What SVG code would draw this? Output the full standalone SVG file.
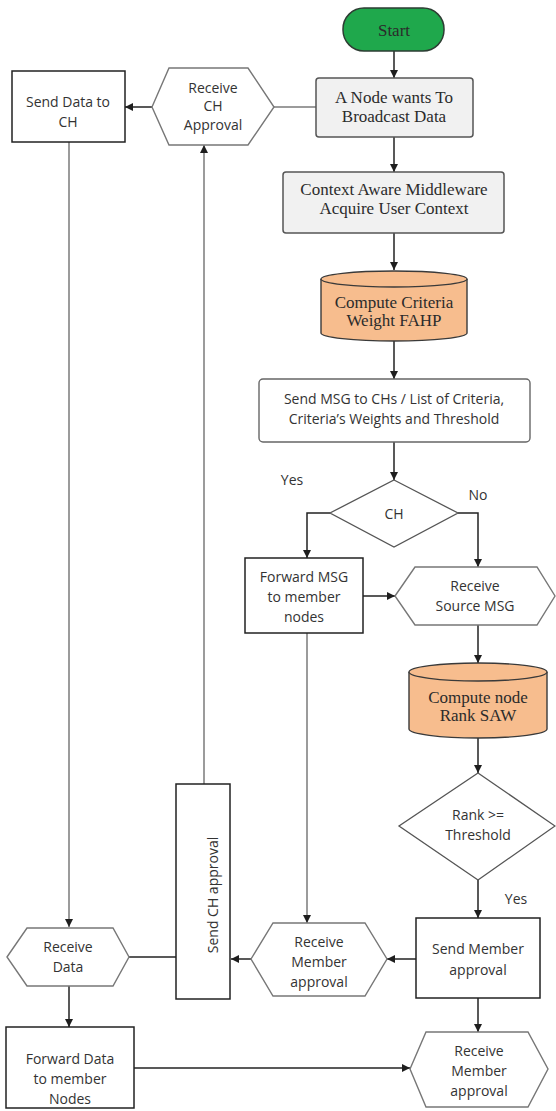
<svg xmlns="http://www.w3.org/2000/svg" width="556" height="1111" viewBox="0 0 556 1111">
<defs>
<marker id="ah" viewBox="0 0 10 10" refX="10" refY="5" markerWidth="9" markerHeight="8" orient="auto" markerUnits="userSpaceOnUse"><path d="M0,0 L10,5 L0,10 z" fill="#1e1e1e"/></marker>
<style>
.serif{font-family:"Liberation Serif","DejaVu Serif",serif;font-size:17px;fill:#2b2b2b;text-anchor:middle;dominant-baseline:central}
.sans{font-family:"Open Sans","Liberation Sans",sans-serif;font-size:14px;fill:#333;text-anchor:middle;dominant-baseline:central}
.gray{fill:#f1f1f1;stroke:#555;stroke-width:1.5}
.box{fill:#fff;stroke:#222;stroke-width:1.5}
.hex{fill:#fff;stroke:#777;stroke-width:1.4}
.dia{fill:#fff;stroke:#555;stroke-width:1.3}
.cyl{fill:#f7bd8e;stroke:#3a3a3a;stroke-width:1.4}
.c{fill:none;stroke:#222;stroke-width:1.5}
.cl{fill:none;stroke:#7a7a7a;stroke-width:1.5}
</style>
</defs>
<rect width="556" height="1111" fill="#fff"/>

<g id="connectors">
<path class="c" d="M394 51 V78" marker-end="url(#ah)"/>
<path class="c" d="M394 137 V172" marker-end="url(#ah)"/>
<path class="c" d="M394 233 V270" marker-end="url(#ah)"/>
<path class="c" d="M394 341 V379" marker-end="url(#ah)"/>
<path class="c" d="M394 442 V480" marker-end="url(#ah)"/>
<path class="c" d="M330 513 H307 V558" marker-end="url(#ah)"/>
<path class="c" d="M458 513 H478 V567" marker-end="url(#ah)"/>
<path class="c" d="M363 596 H395" marker-end="url(#ah)"/>
<path class="c" d="M478 625 V663" marker-end="url(#ah)"/>
<path class="c" d="M478 738 V773" marker-end="url(#ah)"/>
<path class="c" d="M478 880 V918" marker-end="url(#ah)"/>
<path class="c" d="M416 959 H387" marker-end="url(#ah)"/>
<path class="c" d="M251 959 H231" marker-end="url(#ah)"/>
<path class="cl" d="M307 633 V923" marker-end="url(#ah)"/>
<path class="cl" d="M204 784 V145" marker-end="url(#ah)"/>
<path class="cl" d="M316 107 H274"/>
<path class="c" d="M152 107 H125" marker-end="url(#ah)"/>
<path class="cl" d="M69 142 V927" marker-end="url(#ah)"/>
<path class="c" d="M129 957 H176"/>
<path class="c" d="M69 986 V1027" marker-end="url(#ah)"/>
<path class="c" d="M134 1068 H410" marker-end="url(#ah)"/>
<path class="c" d="M478 998 V1032" marker-end="url(#ah)"/>
<text class="sans" x="292" y="479">Yes</text>
<text class="sans" x="478" y="494">No</text>
<text class="sans" x="516" y="898">Yes</text>
</g>

<g id="start">
<rect x="343" y="8" width="101" height="43" rx="21" fill="#1fa84c" stroke="#2d3d33" stroke-width="1.5"/>
<text class="serif" x="394" y="30" font-size="16">Start</text>
</g>

<g id="node-wants">
<rect class="gray" x="316" y="78" width="157" height="59" rx="3"/>
<text class="serif" x="394" y="97">A Node wants To</text>
<text class="serif" x="394" y="116">Broadcast Data</text>
</g>

<g id="receive-ch-approval">
<polygon class="hex" points="152,107 169,68 248,68 274,107 248,145 169,145"/>
<text class="sans" x="213" y="87" font-size="13">Receive</text>
<text class="sans" x="213" y="105" font-size="13">CH</text>
<text class="sans" x="213" y="124" font-size="13">Approval</text>
</g>

<g id="send-data-ch">
<rect class="box" x="12" y="71" width="113" height="71"/>
<text class="sans" x="68" y="101">Send Data to</text>
<text class="sans" x="68" y="121">CH</text>
</g>

<g id="context-aware">
<rect class="gray" x="283" y="172" width="221" height="61" rx="3"/>
<text class="serif" x="394" y="189">Context Aware Middleware</text>
<text class="serif" x="394" y="208">Acquire User Context</text>
</g>

<g id="compute-criteria">
<path class="cyl" d="M321 279 V333 A73 8 0 0 0 467 333 V279 A73 8 0 0 0 321 279 Z"/>
<path class="cyl" d="M321 279 A73 8 0 0 0 467 279" fill="none"/>
<text class="serif" x="394" y="302">Compute Criteria</text>
<text class="serif" x="394" y="320">Weight FAHP</text>
</g>

<g id="send-msg">
<rect x="259" y="379" width="271" height="63" rx="4" fill="#fff" stroke="#666" stroke-width="1.4"/>
<text class="sans" x="394" y="398">Send MSG to CHs / List of Criteria,</text>
<text class="sans" x="394" y="418">Criteria’s Weights and Threshold</text>
</g>

<g id="ch-decision">
<polygon class="dia" points="394,480 458,513 394,547 330,513"/>
<text class="sans" x="394" y="513">CH</text>
</g>

<g id="forward-msg">
<rect class="box" x="245" y="558" width="118" height="75"/>
<text class="sans" x="304" y="576">Forward MSG</text>
<text class="sans" x="304" y="596">to member</text>
<text class="sans" x="304" y="616">nodes</text>
</g>

<g id="receive-source">
<polygon class="hex" points="395,596 415,567 537,567 555,596 537,625 415,625"/>
<text class="sans" x="475" y="585">Receive</text>
<text class="sans" x="475" y="605">Source MSG</text>
</g>

<g id="compute-rank">
<path class="cyl" d="M409 672 V729 A69 9 0 0 0 547 729 V672 A69 9 0 0 0 409 672 Z"/>
<path class="cyl" d="M409 672 A69 9 0 0 0 547 672" fill="none"/>
<text class="serif" x="478" y="697">Compute node</text>
<text class="serif" x="478" y="715">Rank SAW</text>
</g>

<g id="rank-decision">
<polygon class="dia" points="478,773 555,826 478,880 399,826"/>
<text class="sans" x="478" y="814" font-size="13">Rank &gt;=</text>
<text class="sans" x="478" y="834" font-size="13">Threshold</text>
</g>

<g id="send-member">
<rect class="box" x="416" y="918" width="124" height="80"/>
<text class="sans" x="478" y="948">Send Member</text>
<text class="sans" x="478" y="969">approval</text>
</g>

<g id="receive-member-mid">
<polygon class="hex" points="251,959 273,923 365,923 387,959 365,996 273,996"/>
<text class="sans" x="319" y="941">Receive</text>
<text class="sans" x="319" y="961">Member</text>
<text class="sans" x="319" y="981">approval</text>
</g>

<g id="send-ch-approval">
<rect class="box" x="176" y="784" width="54" height="215"/>
<text class="sans" transform="translate(212 895) rotate(-90)" x="0" y="0">Send CH approval</text>
</g>

<g id="receive-data">
<polygon class="hex" points="7,957 27,928 113,928 129,957 113,986 27,986"/>
<text class="sans" x="68" y="946">Receive</text>
<text class="sans" x="68" y="966">Data</text>
</g>

<g id="forward-data">
<rect class="box" x="6" y="1027" width="128" height="81"/>
<text class="sans" x="70" y="1058">Forward Data</text>
<text class="sans" x="70" y="1078">to member</text>
<text class="sans" x="70" y="1098">Nodes</text>
</g>

<g id="receive-member-bottom">
<polygon class="hex" points="410,1069 426,1032 528,1032 548,1069 528,1107 426,1107"/>
<text class="sans" x="479" y="1050">Receive</text>
<text class="sans" x="479" y="1070">Member</text>
<text class="sans" x="479" y="1090">approval</text>
</g>
</svg>
